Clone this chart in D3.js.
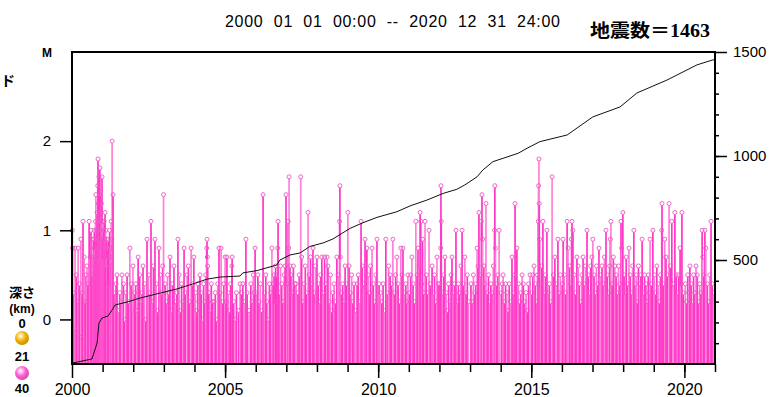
<!DOCTYPE html>
<html>
<head>
<meta charset="utf-8">
<script src="https://cdn.jsdelivr.net/npm/d3@7"></script>
<style>
  html, body { margin: 0; padding: 0; background: #fff; }
  svg { display: block; font-family: "Liberation Sans", Arial, sans-serif; }
</style>
</head>
<body>
<svg id="chart" width="782" height="397"></svg>
<script>
// period and count labels
const periodLabel = "2000  01  01  00:00  --  2020  12  31  24:00";
const countLabel = "地震数＝1463";

// tick values
const yearTicks = [2000, 2005, 2010, 2015, 2020];
const magTicks = [0, 1, 2];
const countTicks = [500, 1000, 1500];

// depth legend (km)
const depthLabels = ["0", "21", "40"];
const depthColors = ["#f2b300", "#ff5fd6"];

// cumulative number of quakes
const cumTime = [2000.00, 2000.03, 2000.65, 2000.82, 2000.88, 2000.98, 2001.18, 2001.31, 2001.41, 2001.80,
  2002.22, 2002.88, 2003.43, 2003.95, 2004.41, 2004.84, 2005.49, 2005.58, 2006.04, 2006.69, 2006.79,
  2007.12, 2007.45, 2007.77, 2008.20, 2008.52, 2008.85, 2009.08, 2009.50, 2009.96, 2010.61, 2011.04,
  2011.59, 2012.12, 2012.57, 2012.83, 2013.23, 2013.42, 2013.75, 2014.08, 2014.57, 2014.86, 2015.28,
  2016.17, 2017.01, 2017.90, 2018.45, 2019.43, 2020.41, 2020.93, 2021.00];
const cumCount = [0, 5, 24, 101, 197, 221, 231, 260, 284, 298,
  317, 341, 361, 385, 408, 418, 423, 438, 449, 476, 500,
  524, 534, 565, 582, 601, 631, 652, 679, 705, 732, 760,
  788, 820, 840, 861, 900, 933, 973, 989, 1013, 1037, 1069,
  1101, 1188, 1236, 1303, 1365, 1438, 1462, 1463];

// quakes: [decimal year, magnitude]
const quakes = [
  [2000.01,1.0],[2000.02,0.8],[2000.05,0.3],[2000.08,-0.1],[2000.10,0.8],[2000.14,0.5],[2000.17,0.2],[2000.20,0.8],
  [2000.24,0.4],[2000.26,-0.2],[2000.29,0.9],[2000.33,0.3],[2000.36,1.1],[2000.40,0.7],[2000.43,0.2],[2000.46,0.5],
  [2000.49,0.6],[2000.52,0.4],[2000.56,1.1],[2000.59,0.7],[2000.62,1.0],[2000.66,0.5],[2000.69,0.9],[2000.70,0.7],
  [2000.71,0.9],[2000.72,0.8],[2000.73,1.0],[2000.74,0.6],[2000.75,0.8],[2000.76,0.7],[2000.77,1.1],[2000.78,1.4],
  [2000.79,0.9],[2000.80,1.0],[2000.81,0.7],[2000.82,1.2],[2000.83,1.0],[2000.84,1.5],[2000.85,1.8],[2000.86,1.3],
  [2000.87,0.9],[2000.88,1.6],[2000.89,1.1],[2000.90,1.2],[2000.91,1.7],[2000.92,1.4],[2000.93,0.9],[2000.94,1.1],
  [2000.95,1.0],[2000.96,1.3],[2000.97,0.8],[2000.98,1.6],[2000.99,1.1],
  [2001.00,0.9],[2001.01,0.8],[2001.02,0.7],[2001.03,1.0],[2001.05,1.1],[2001.06,0.9],[2001.07,0.8],[2001.08,1.2],
  [2001.10,1.0],[2001.11,0.6],[2001.12,0.9],[2001.14,0.7],[2001.16,0.8],[2001.18,0.9],[2001.20,0.4],[2001.21,0.7],
  [2001.23,1.0],[2001.24,0.8],[2001.26,0.8],[2001.27,0.7],[2001.28,1.1],[2001.29,0.6],[2001.30,0.9],[2001.31,2.0],
  [2001.34,1.4],[2001.37,0.3],[2001.41,0.2],[2001.44,0.4],[2001.47,0.5],[2001.52,0.1],[2001.56,0.3],[2001.60,0.2],
  [2001.63,0.5],[2001.68,0.4],[2001.72,0.0],[2001.76,0.3],[2001.80,0.5],[2001.84,0.2],[2001.89,0.8],[2001.93,0.4],
  [2001.96,0.1],[2001.99,0.6],
  [2002.04,0.3],[2002.08,0.4],[2002.12,0.1],[2002.16,0.7],[2002.21,0.5],[2002.25,0.2],[2002.29,0.3],[2002.32,0.6],
  [2002.37,0.4],[2002.41,0.0],[2002.45,0.9],[2002.50,0.5],[2002.54,0.3],[2002.58,1.1],[2002.62,0.2],[2002.66,0.6],
  [2002.71,0.9],[2002.75,0.4],[2002.79,0.1],[2002.84,0.8],[2002.88,0.5],[2002.92,0.3],[2002.96,0.6],[2002.99,1.4],
  [2003.04,0.4],[2003.08,0.2],[2003.12,0.5],[2003.16,0.3],[2003.20,0.7],[2003.24,0.1],[2003.28,0.4],[2003.33,0.6],
  [2003.38,0.2],[2003.42,0.3],[2003.46,0.9],[2003.50,0.5],[2003.54,0.1],[2003.58,0.4],[2003.62,0.2],[2003.66,0.8],
  [2003.70,0.3],[2003.76,0.5],[2003.80,0.6],[2003.84,0.2],[2003.89,0.8],[2003.93,0.4],[2003.98,0.7],
  [2004.03,0.3],[2004.07,0.1],[2004.11,0.4],[2004.14,0.2],[2004.18,0.5],[2004.22,0.3],[2004.26,0.0],[2004.30,0.4],
  [2004.34,0.2],[2004.37,0.5],[2004.40,0.8],[2004.41,0.9],[2004.42,0.7],[2004.43,0.6],[2004.47,0.3],[2004.51,0.1],
  [2004.55,0.4],[2004.59,0.2],[2004.64,0.2],[2004.68,0.3],[2004.72,0.0],[2004.76,0.4],[2004.80,0.8],[2004.84,0.3],
  [2004.87,0.8],[2004.92,0.2],[2004.96,0.4],
  [2005.00,0.7],[2005.03,0.2],[2005.06,0.7],[2005.10,0.3],[2005.14,0.1],[2005.18,0.4],[2005.22,0.6],[2005.23,0.7],
  [2005.28,0.2],[2005.33,0.0],[2005.37,0.3],[2005.44,0.1],[2005.49,0.4],[2005.53,0.3],[2005.58,0.4],[2005.62,0.2],
  [2005.68,0.9],[2005.72,0.3],[2005.78,0.1],[2005.84,0.4],[2005.88,0.2],[2005.92,0.5],[2005.95,0.3],[2005.98,0.8],
  [2006.03,0.3],[2006.07,0.5],[2006.11,0.2],[2006.15,0.4],[2006.19,0.1],[2006.24,1.4],[2006.29,0.3],[2006.33,0.5],
  [2006.36,0.2],[2006.40,0.0],[2006.45,0.4],[2006.49,0.3],[2006.53,0.8],[2006.57,0.4],[2006.60,0.5],[2006.62,0.2],
  [2006.65,0.6],[2006.68,0.5],[2006.72,0.8],[2006.73,1.1],[2006.77,0.3],[2006.81,0.6],[2006.85,0.4],[2006.89,0.2],
  [2006.93,0.5],[2006.96,0.6],[2006.99,1.4],
  [2007.02,0.4],[2007.06,1.1],[2007.08,0.8],[2007.09,1.6],[2007.12,0.6],[2007.15,0.5],[2007.19,0.3],[2007.23,0.6],
  [2007.28,0.4],[2007.32,0.4],[2007.38,0.3],[2007.42,0.5],[2007.47,1.6],[2007.50,0.7],[2007.54,0.2],[2007.58,0.4],
  [2007.62,0.6],[2007.66,0.3],[2007.71,1.2],[2007.75,0.5],[2007.79,0.7],[2007.83,0.4],[2007.87,0.8],[2007.91,0.3],
  [2007.95,0.6],
  [2008.00,0.7],[2008.04,0.4],[2008.08,0.2],[2008.12,0.5],[2008.16,0.7],[2008.20,0.3],[2008.25,0.7],[2008.29,0.4],
  [2008.33,0.7],[2008.36,0.6],[2008.40,0.2],[2008.44,0.5],[2008.48,0.1],[2008.52,0.3],[2008.56,0.4],[2008.60,0.2],
  [2008.65,0.7],[2008.69,0.5],[2008.74,1.1],[2008.75,1.5],[2008.76,0.7],[2008.80,0.3],[2008.84,0.4],[2008.88,0.2],
  [2008.92,0.6],[2008.96,0.4],
  [2009.01,1.2],[2009.05,0.6],[2009.09,0.3],[2009.13,0.5],[2009.17,0.2],[2009.21,0.4],[2009.25,0.1],[2009.31,0.4],
  [2009.35,0.5],[2009.39,0.2],[2009.44,1.1],[2009.48,0.6],[2009.52,0.4],[2009.57,0.9],[2009.63,0.8],[2009.67,0.5],
  [2009.71,0.3],[2009.75,0.6],[2009.80,0.8],[2009.84,0.4],[2009.88,0.2],[2009.92,0.5],[2009.96,0.9],
  [2010.03,0.4],[2010.07,0.3],[2010.12,0.2],[2010.16,0.4],[2010.20,0.1],[2010.25,0.9],[2010.30,0.3],[2010.34,0.6],
  [2010.39,0.5],[2010.43,0.4],[2010.48,0.9],[2010.53,0.3],[2010.57,0.5],[2010.61,0.7],[2010.65,0.4],[2010.69,0.2],
  [2010.74,0.8],[2010.78,0.5],[2010.81,0.8],[2010.86,0.3],[2010.90,0.4],[2010.93,0.2],[2010.97,0.5],
  [2011.02,0.3],[2011.06,0.5],[2011.10,0.7],[2011.14,0.4],[2011.18,0.2],[2011.23,1.1],[2011.27,0.5],[2011.30,0.8],
  [2011.34,0.6],[2011.37,1.2],[2011.39,1.1],[2011.42,0.4],[2011.45,0.9],[2011.49,0.3],[2011.53,1.1],[2011.57,0.5],
  [2011.61,0.3],[2011.66,1.0],[2011.70,0.4],[2011.76,0.6],[2011.80,0.3],[2011.84,0.5],[2011.88,0.2],[2011.92,0.7],
  [2011.96,0.4],
  [2012.01,0.4],[2012.04,0.8],[2012.05,1.5],[2012.06,1.1],[2012.10,0.3],[2012.14,0.5],[2012.18,0.7],[2012.22,0.3],
  [2012.26,0.1],[2012.30,0.4],[2012.34,0.2],[2012.38,0.5],[2012.41,0.7],[2012.45,0.3],[2012.49,0.4],[2012.54,1.0],
  [2012.58,0.2],[2012.62,0.4],[2012.66,0.3],[2012.70,0.6],[2012.74,1.0],[2012.78,0.4],[2012.83,0.7],[2012.87,0.3],
  [2012.91,0.5],[2012.95,0.2],
  [2013.03,0.4],[2013.07,0.2],[2013.11,0.5],[2013.15,0.3],[2013.19,0.4],[2013.23,0.8],[2013.26,0.6],[2013.29,1.2],
  [2013.33,0.5],[2013.37,1.1],[2013.39,1.4],[2013.41,0.9],[2013.45,0.6],[2013.49,0.4],[2013.52,1.3],[2013.56,0.3],
  [2013.60,0.5],[2013.64,0.2],[2013.68,0.4],[2013.72,0.3],[2013.76,0.6],[2013.80,1.0],[2013.81,1.5],[2013.83,0.8],
  [2013.87,0.4],[2013.91,0.5],[2013.95,1.0],
  [2014.02,0.3],[2014.05,0.4],[2014.08,0.5],[2014.12,0.2],[2014.16,0.4],[2014.20,0.3],[2014.24,0.1],[2014.28,0.4],
  [2014.32,0.2],[2014.37,0.7],[2014.41,0.3],[2014.45,0.5],[2014.47,1.3],[2014.53,0.8],[2014.58,0.4],[2014.62,0.2],
  [2014.66,0.3],[2014.70,0.5],[2014.74,0.4],[2014.78,0.2],[2014.83,0.3],[2014.87,0.1],[2014.91,0.4],[2014.96,0.5],
  [2015.02,0.3],[2015.05,0.5],[2015.09,0.6],[2015.13,0.4],[2015.17,0.2],[2015.20,0.5],[2015.23,1.1],[2015.24,1.5],
  [2015.25,1.8],[2015.26,1.3],[2015.27,0.9],[2015.30,0.4],[2015.34,0.6],[2015.38,1.1],[2015.42,0.3],[2015.46,0.5],
  [2015.51,1.0],[2015.55,0.3],[2015.59,0.4],[2015.63,0.2],[2015.68,1.6],[2015.72,0.5],[2015.77,0.7],[2015.81,0.4],
  [2015.87,0.9],[2015.91,0.3],[2015.95,0.5],
  [2016.01,0.4],[2016.04,0.9],[2016.08,0.5],[2016.12,0.3],[2016.17,1.1],[2016.20,0.8],[2016.25,0.6],[2016.28,0.4],
  [2016.31,0.9],[2016.33,1.1],[2016.36,1.0],[2016.40,0.5],[2016.44,0.3],[2016.49,0.7],[2016.53,0.6],[2016.57,0.4],
  [2016.61,0.2],[2016.65,0.5],[2016.69,0.7],[2016.73,0.4],[2016.77,0.6],[2016.82,1.0],[2016.86,0.5],[2016.90,0.3],
  [2016.94,0.6],[2016.98,0.7],
  [2017.01,0.9],[2017.05,0.5],[2017.09,0.3],[2017.13,0.6],[2017.17,0.4],[2017.21,0.8],[2017.25,0.5],[2017.31,0.6],
  [2017.35,0.4],[2017.39,0.7],[2017.44,1.0],[2017.48,0.5],[2017.52,0.3],[2017.56,0.6],[2017.58,0.9],[2017.60,1.1],
  [2017.64,0.4],[2017.68,0.7],[2017.73,0.6],[2017.77,0.5],[2017.81,0.3],[2017.85,0.6],[2017.89,0.4],[2017.93,1.1],
  [2017.95,0.8],[2017.99,1.2],
  [2018.03,0.5],[2018.06,0.3],[2018.10,0.7],[2018.14,0.4],[2018.19,0.8],[2018.23,0.5],[2018.27,0.3],[2018.31,0.6],
  [2018.35,1.0],[2018.39,0.4],[2018.43,0.5],[2018.46,0.2],[2018.50,0.6],[2018.54,0.4],[2018.58,0.5],[2018.62,0.9],
  [2018.66,0.3],[2018.70,0.5],[2018.74,0.4],[2018.78,0.2],[2018.82,0.5],[2018.85,0.3],[2018.88,0.9],[2018.92,0.4],
  [2018.97,1.0],
  [2019.02,0.5],[2019.06,0.3],[2019.10,0.6],[2019.14,0.4],[2019.18,0.2],[2019.22,0.5],[2019.26,1.0],[2019.27,1.3],
  [2019.31,0.4],[2019.36,0.9],[2019.40,0.7],[2019.44,0.5],[2019.50,1.3],[2019.54,0.6],[2019.59,1.1],[2019.63,0.4],
  [2019.69,1.2],[2019.73,0.5],[2019.77,0.3],[2019.81,0.5],[2019.86,0.8],[2019.89,0.4],[2019.92,1.2],[2019.96,0.3],
  [2020.03,0.4],[2020.07,0.2],[2020.11,0.5],[2020.14,0.3],[2020.18,0.6],[2020.22,0.4],[2020.26,0.2],[2020.30,0.5],
  [2020.34,0.3],[2020.38,0.6],[2020.42,0.5],[2020.46,0.2],[2020.50,0.4],[2020.54,0.3],[2020.58,1.0],[2020.60,0.7],
  [2020.63,0.5],[2020.67,1.0],[2020.70,0.8],[2020.75,0.4],[2020.79,0.2],[2020.83,0.5],[2020.87,1.1],[2020.91,0.4],
  [2020.95,0.3]
];

const svg = d3.select("#chart");

const plotLeft = 72, plotRight = 715, plotTop = 52, plotBottom = 364;
const x = d3.scaleLinear().domain([2000, 2021]).range([plotLeft, plotRight]);
const yM = d3.scaleLinear().domain([-0.5, 3]).range([plotBottom, plotTop]);
const yN = d3.scaleLinear().domain([0, 1500]).range([plotBottom, plotTop]);

const pink = "#ff36c6";
const pinkLight = "#ff80d8";

// gradients for the depth balls
const defs = svg.append("defs");
depthColors.forEach((c, i) => {
  const g = defs.append("radialGradient")
      .attr("id", "ball" + i)
      .attr("cx", "40%").attr("cy", "35%").attr("r", "65%");
  g.append("stop").attr("offset", "0%").attr("stop-color", "#fff");
  g.append("stop").attr("offset", "55%").attr("stop-color", c);
  g.append("stop").attr("offset", "100%").attr("stop-color", d3.color(c).darker(0.6));
});

// stems
const gQ = svg.append("g");
gQ.selectAll("line")
  .data(quakes)
  .join("line")
    .attr("x1", d => x(d[0]))
    .attr("x2", d => x(d[0]))
    .attr("y1", yM(-0.5))
    .attr("y2", d => yM(d[1]) + 2)
    .attr("stroke", (d, i) => i % 3 === 1 ? pinkLight : pink)
    .attr("stroke-width", 1.7);

// circles at the top of each stem
gQ.selectAll("circle")
  .data(quakes)
  .join("circle")
    .attr("cx", d => x(d[0]))
    .attr("cy", d => yM(d[1]))
    .attr("r", 2)
    .attr("fill", "none")
    .attr("stroke", "#ee55c4")
    .attr("stroke-width", 0.9);

// cumulative count line
const line = d3.line()
    .x((d, i) => x(cumTime[i]))
    .y(d => yN(d));
svg.append("path")
    .attr("d", line(cumCount))
    .attr("fill", "none")
    .attr("stroke", "#111")
    .attr("stroke-width", 1);

// frame
svg.append("rect")
    .attr("x", plotLeft).attr("y", plotTop)
    .attr("width", plotRight - plotLeft).attr("height", plotBottom - plotTop)
    .attr("fill", "none")
    .attr("stroke", "#000")
    .attr("stroke-width", 2);

// axes
function styleAxis(g, size) {
  g.select(".domain").remove();
  g.selectAll(".tick line").attr("stroke", "#000").attr("stroke-width", 1.5);
  g.selectAll(".tick text")
      .attr("fill", "#000")
      .style("font-size", size + "px")
      .style("font-family", '"Liberation Sans", Arial, sans-serif');
}

// minor year ticks
svg.append("g")
    .attr("transform", `translate(0,${plotBottom})`)
    .call(d3.axisBottom(x).tickValues(d3.range(2001, 2022)).tickSize(8).tickFormat(""))
    .call(g => styleAxis(g, 16));
svg.append("g")
    .attr("transform", `translate(0,${plotBottom})`)
    .call(d3.axisBottom(x).tickValues(yearTicks).tickSize(14).tickPadding(6).tickFormat(d3.format("d")))
    .call(g => styleAxis(g, 16));

svg.append("g")
    .attr("transform", `translate(${plotLeft},0)`)
    .call(d3.axisLeft(yM).tickValues(magTicks).tickSize(12).tickPadding(9).tickFormat(d3.format("d")))
    .call(g => styleAxis(g, 15));

svg.append("g")
    .attr("transform", `translate(${plotRight},0)`)
    .call(d3.axisRight(yN).tickValues(d3.range(100, 1500, 100)).tickSize(4).tickFormat(""))
    .call(g => styleAxis(g, 15));
svg.append("g")
    .attr("transform", `translate(${plotRight},0)`)
    .call(d3.axisRight(yN).tickValues(countTicks).tickSize(12).tickPadding(6).tickFormat(d3.format("d")))
    .call(g => styleAxis(g, 15));

// texts
svg.append("text")
    .attr("x", 225).attr("y", 27)
    .attr("textLength", 335).attr("lengthAdjust", "spacing")
    .style("font-size", "16px")
    .style("white-space", "pre")
    .text(periodLabel);

svg.append("text")
    .attr("x", 590).attr("y", 37)
    .attr("textLength", 120).attr("lengthAdjust", "spacingAndGlyphs")
    .style("font-family", '"Liberation Serif", "Noto Sans CJK JP", serif')
    .style("font-weight", "bold")
    .style("font-size", "18px")
    .text(countLabel);

svg.append("text")
    .attr("x", 47).attr("y", 57)
    .attr("text-anchor", "middle")
    .style("font-size", "12px").style("font-weight", "bold")
    .text("M");

svg.append("text")
    .attr("x", 1).attr("y", 86)
    .style("font-family", '"Noto Sans CJK JP", sans-serif')
    .style("font-size", "14px").style("font-weight", "bold")
    .text("ド");

// depth legend
const leg = svg.append("g")
    .attr("text-anchor", "middle")
    .style("font-weight", "bold");
leg.append("text")
    .attr("x", 22).attr("y", 297)
    .style("font-family", '"Noto Sans CJK JP", sans-serif')
    .style("font-size", "13px")
    .text("深さ");
leg.append("text")
    .attr("x", 22).attr("y", 313)
    .style("font-size", "12px")
    .text("(km)");
const labelY = [328, 361, 393];
leg.selectAll("text.depth")
  .data(depthLabels)
  .join("text")
    .attr("class", "depth")
    .attr("x", 22)
    .attr("y", (d, i) => labelY[i])
    .style("font-size", "13px")
    .text(d => d);
leg.selectAll("circle")
  .data(depthColors)
  .join("circle")
    .attr("cx", 22)
    .attr("cy", (d, i) => [338, 373][i])
    .attr("r", 7)
    .attr("fill", (d, i) => `url(#ball${i})`);
</script>
</body>
</html>
